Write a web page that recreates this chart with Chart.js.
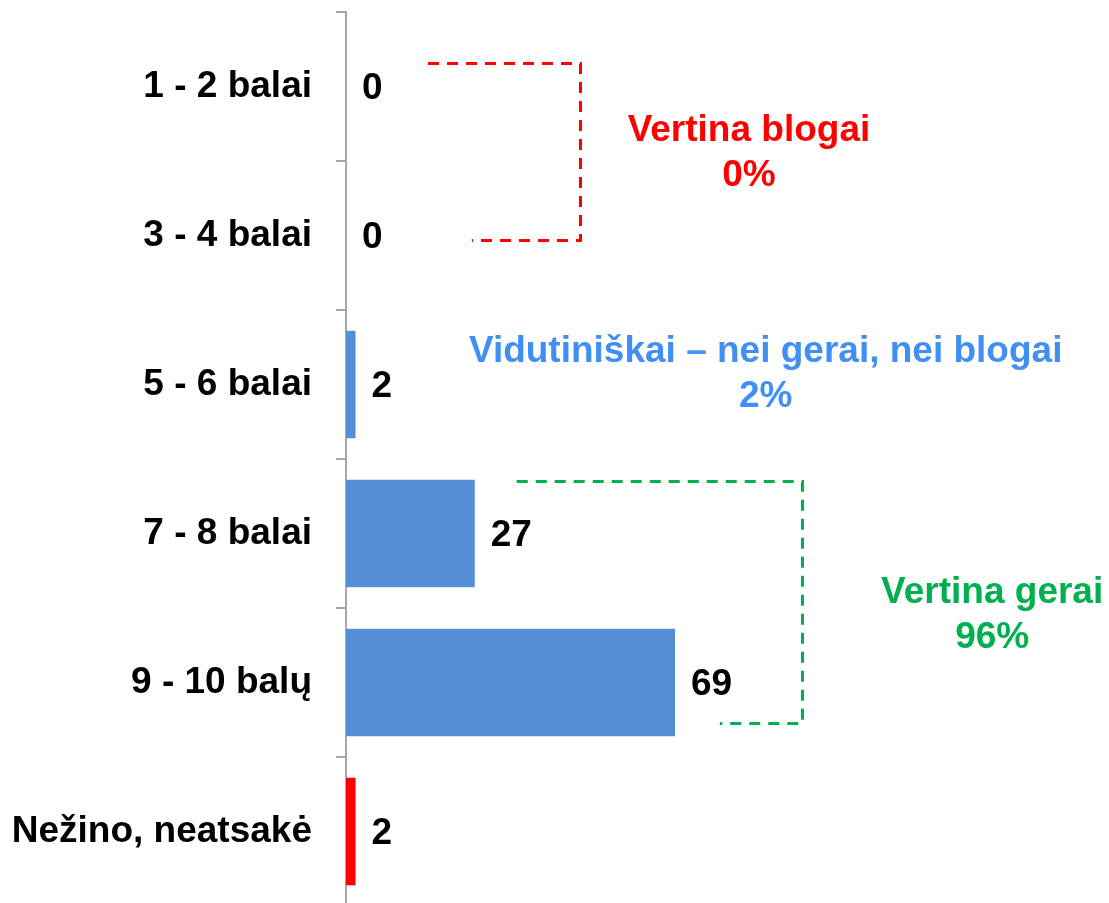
<!DOCTYPE html>
<html>
<head>
<meta charset="utf-8">
<script src="https://cdn.jsdelivr.net/npm/chart.js@4"></script>
<style>
  html, body { margin: 0; padding: 0; background: #fff; overflow: hidden; }
  #wrap { width: 1109px; height: 906px; }
</style>
</head>
<body>
<div id="wrap"><canvas id="chart"></canvas></div>
<script>
// Data for the chart
const categories = ['1 - 2 balai', '3 - 4 balai', '5 - 6 balai', '7 - 8 balai', '9 - 10 balų', 'Nežino, neatsakė'];
const values = [0, 0, 2, 27, 69, 2];
const barColors = ['#558ed5', '#558ed5', '#558ed5', '#558ed5', '#558ed5', '#ff0000'];

// Group notes: label, percent, colour
const groupNotes = [
    { text: 'Vertina blogai', pct: '0%', color: '#ff0000', x: 84.5, y: 0.30 },
    { text: 'Vidutiniškai – nei gerai, nei blogai', pct: '2%', color: '#3f8ff5', x: 88, y: 1.78 },
    { text: 'Vertina gerai', pct: '96%', color: '#00b050', x: 135.5, y: 3.40 }
];

// Dashed brackets: top/bottom in category index, x in value units
const brackets = [
    { color: '#ff0000', top: -0.158, bottom: 1.03, xTop: 17.2, xBottom: 26.4, xSide: 49 },
    { color: '#00b050', top: 2.648, bottom: 4.272, xTop: 35.8, xBottom: 78.4, xSide: 95.6 }
];

const FONT = '"Liberation Sans", Arial, sans-serif';

const valueLabels = {
    id: 'valueLabels',
    afterDatasetsDraw(chart) {
        const ctx = chart.ctx;
        const meta = chart.getDatasetMeta(0);
        ctx.save();
        ctx.font = 'bold 37px ' + FONT;
        ctx.fillStyle = '#000';
        ctx.textAlign = 'left';
        ctx.textBaseline = 'middle';
        meta.data.forEach((bar, i) => {
            ctx.fillText(String(values[i]), bar.x + 16, bar.y + 2);
        });
        ctx.restore();
    }
};

const notes = {
    id: 'notes',
    afterDraw(chart) {
        const ctx = chart.ctx;
        const xs = chart.scales.x, ys = chart.scales.y;
        ctx.save();
        ctx.lineWidth = 3;
        ctx.setLineDash([11, 8]);
        brackets.forEach(b => {
            const t = Math.round(ys.getPixelForValue(b.top)) + 0.5;
            const bt = Math.round(ys.getPixelForValue(b.bottom)) + 0.5;
            const s = Math.round(xs.getPixelForValue(b.xSide)) + 0.5;
            ctx.strokeStyle = b.color;
            ctx.beginPath();
            ctx.moveTo(xs.getPixelForValue(b.xTop), t);
            ctx.lineTo(s, t);
            ctx.lineTo(s, bt);
            ctx.lineTo(xs.getPixelForValue(b.xBottom), bt);
            ctx.stroke();
        });
        ctx.setLineDash([]);
        ctx.font = 'bold 37px ' + FONT;
        ctx.textAlign = 'center';
        ctx.textBaseline = 'middle';
        groupNotes.forEach(n => {
            const x = xs.getPixelForValue(n.x);
            const y = ys.getPixelForValue(n.y);
            ctx.fillStyle = n.color;
            ctx.fillText(n.text, x, y);
            ctx.fillText(n.pct, x, y + 45);
        });
        ctx.restore();
    }
};

window.onload = function() {
    new Chart(document.getElementById('chart'), {
        type: 'bar',
        data: {
            labels: categories,
            datasets: [{
                data: values,
                backgroundColor: barColors,
                barPercentage: 0.72,
                categoryPercentage: 1
            }]
        },
        options: {
            indexAxis: 'y',
            responsive: true,
            maintainAspectRatio: false,
            animation: false,
            layout: { padding: { top: 12, right: 0, bottom: 0, left: 0 } },
            plugins: {
                legend: { display: false },
                tooltip: { enabled: false }
            },
            scales: {
                x: {
                    display: false,
                    min: 0,
                    max: 160
                },
                y: {
                    afterFit(scale) {
                        scale.width = 346;
                        scale.paddingTop = 0;
                        scale.paddingBottom = 0;
                    },
                    border: { display: true, color: '#a6a6a6', width: 2 },
                    grid: {
                        offset: true,
                        drawOnChartArea: false,
                        drawTicks: true,
                        tickLength: 10,
                        color: '#a6a6a6',
                        lineWidth: 2
                    },
                    ticks: {
                        color: '#000',
                        padding: 24,
                        font: { family: FONT, size: 37, weight: 'bold' }
                    }
                }
            }
        },
        plugins: [valueLabels, notes]
    });
};
</script>
</body>
</html>
